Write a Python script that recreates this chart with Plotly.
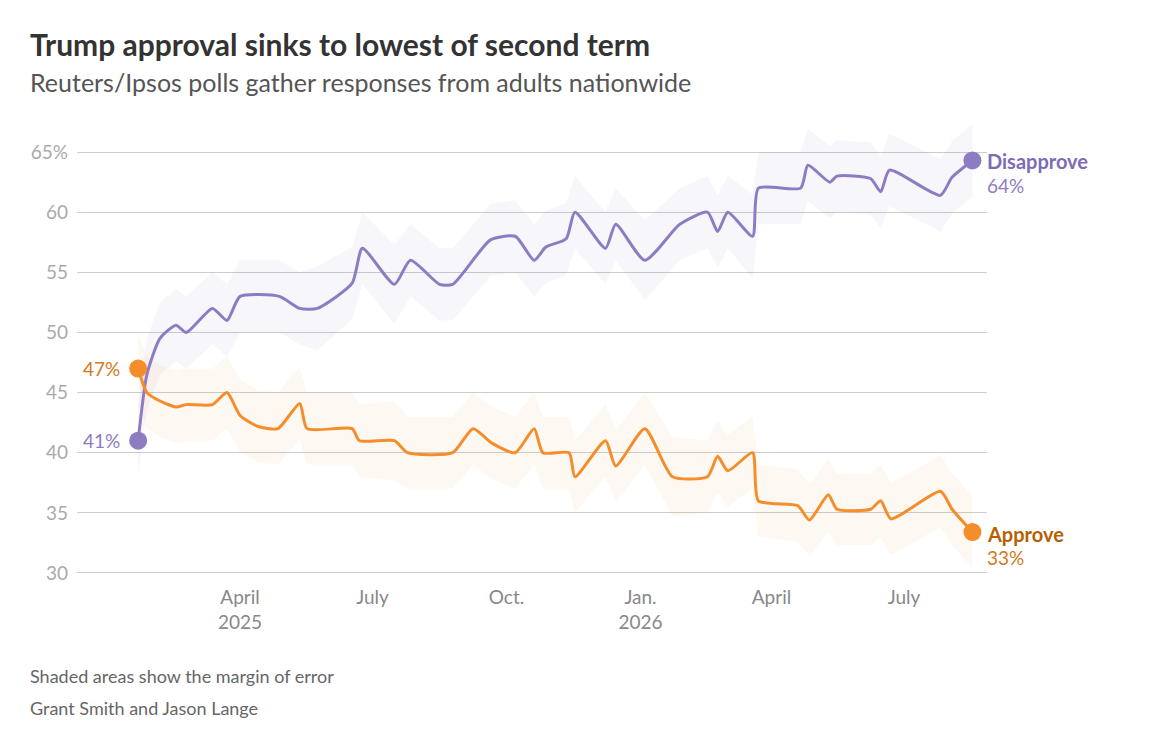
import plotly.graph_objects as go

# Reuters/Ipsos poll readings (percent)
disapprove_dates = [
    "2025-01-21", "2025-01-27", "2025-02-05", "2025-02-16", "2025-02-23",
    "2025-03-13", "2025-03-23", "2025-04-01", "2025-04-28", "2025-05-12",
    "2025-05-24", "2025-06-17", "2025-06-24", "2025-07-16", "2025-07-27",
    "2025-08-16", "2025-08-25", "2025-09-20", "2025-10-07", "2025-10-20",
    "2025-10-28", "2025-11-11", "2025-11-17", "2025-12-08", "2025-12-15",
    "2026-01-04", "2026-01-28", "2026-02-16", "2026-02-23", "2026-03-02",
    "2026-03-19", "2026-03-23", "2026-04-21", "2026-04-26", "2026-05-11",
    "2026-05-16", "2026-06-08", "2026-06-15", "2026-06-21", "2026-07-26",
    "2026-08-03", "2026-08-17",
]
disapprove = [
    41.0, 46.5, 49.5, 50.6, 50.0,
    52.0, 51.0, 53.0, 53.0, 52.0,
    52.0, 54.1, 57.0, 54.0, 56.0,
    54.0, 54.0, 57.7, 58.0, 56.0,
    57.1, 57.8, 60.0, 57.0, 59.0,
    56.0, 59.0, 60.0, 58.4, 60.0,
    58.0, 62.0, 62.0, 63.9, 62.5,
    63.0, 62.8, 61.7, 63.5, 61.4,
    62.9, 64.3,
]
disapprove_moe = [
    3.0, 3.0, 3.0, 3.0, 3.0,
    3.0, 3.0, 3.0, 3.0, 3.0,
    3.5, 3.0, 3.0, 3.3, 3.0,
    3.0, 3.0, 3.0, 3.0, 3.0,
    3.0, 3.0, 3.0, 3.0, 3.0,
    3.3, 3.0, 3.0, 3.0, 3.0,
    3.5, 3.0, 3.0, 3.0, 3.0,
    3.0, 3.0, 3.0, 3.0, 3.0,
    3.0, 3.0,
]

approve_dates = [
    "2025-01-21", "2025-01-27", "2025-02-05", "2025-02-16", "2025-02-23",
    "2025-03-13", "2025-03-23", "2025-04-01", "2025-04-13", "2025-04-27",
    "2025-05-12", "2025-05-17", "2025-06-17", "2025-06-22", "2025-07-16",
    "2025-07-25", "2025-08-25", "2025-09-08", "2025-09-21", "2025-10-07",
    "2025-10-20", "2025-10-26", "2025-11-13", "2025-11-17", "2025-12-08",
    "2025-12-15", "2026-01-04", "2026-01-23", "2026-02-16", "2026-02-23",
    "2026-03-02", "2026-03-19", "2026-03-23", "2026-04-19", "2026-04-27",
    "2026-05-10", "2026-05-16", "2026-06-08", "2026-06-15", "2026-06-22",
    "2026-07-26", "2026-08-03", "2026-08-17",
]
approve = [
    47.0, 45.0, 44.3, 43.8, 44.0,
    44.0, 45.0, 43.1, 42.2, 42.0,
    44.1, 42.0, 42.0, 41.0, 41.0,
    40.0, 40.0, 42.0, 40.8, 40.0,
    42.0, 40.0, 40.0, 38.0, 41.0,
    38.9, 42.0, 38.0, 38.0, 39.7,
    38.5, 40.0, 36.0, 35.6, 34.4,
    36.5, 35.3, 35.3, 36.0, 34.5,
    36.8, 35.3, 33.4,
]
approve_moe = [
    3.0, 3.0, 3.0, 3.0, 3.0,
    3.0, 3.0, 3.0, 3.0, 3.0,
    3.0, 3.0, 3.0, 3.0, 3.3,
    3.0, 3.0, 3.0, 3.0, 3.0,
    3.0, 3.0, 3.0, 3.0, 3.0,
    3.0, 3.0, 3.3, 3.0, 3.0,
    3.0, 3.0, 3.0, 3.0, 3.0,
    3.0, 3.0, 3.0, 3.0, 3.0,
    3.0, 3.0, 3.0,
]

tick_dates = ["2025-04-01", "2025-07-01", "2025-10-01", "2026-01-01", "2026-04-01", "2026-07-01"]
tick_labels = ["April<br>2025", "July", "Oct.", "Jan.<br>2026", "April", "July"]
y_ticks = [30, 35, 40, 45, 50, 55, 60, 65]
y_labels = ["30", "35", "40", "45", "50", "55", "60", "65%"]

PURPLE = "#8e7cc3"
ORANGE = "#f58d2a"
FONT = "Lato"

# plot area in page pixels (page has an 8px body margin)
PL, PR, PT, PB = 77, 987, 122, 579


def px(x, y):
    return (x - PL) / (PR - PL), (PB - y) / (PB - PT)


def band(dates, vals, moe, fill):
    upper = [v + m for v, m in zip(vals, moe)]
    lower = [v - m for v, m in zip(vals, moe)]
    return go.Scatter(
        x=dates + dates[::-1], y=upper + lower[::-1],
        fill="toself", fillcolor=fill, line=dict(width=0),
        mode="lines", hoverinfo="skip", showlegend=False,
    )


fig = go.Figure()
fig.add_trace(band(disapprove_dates, disapprove, disapprove_moe, "rgba(142,124,195,0.065)"))
fig.add_trace(band(approve_dates, approve, approve_moe, "rgba(245,141,42,0.06)"))

for d, v, c in [(disapprove_dates, disapprove, PURPLE), (approve_dates, approve, ORANGE)]:
    fig.add_trace(go.Scatter(
        x=d, y=v, mode="lines",
        line=dict(color=c, width=3, shape="spline", smoothing=0.6),
        showlegend=False,
    ))
    fig.add_trace(go.Scatter(
        x=[d[0], d[-1]], y=[v[0], v[-1]], mode="markers",
        marker=dict(color=c, size=18), showlegend=False,
    ))

# end labels
fig.add_annotation(x=disapprove_dates[-1], y=disapprove[-1], xanchor="left", yanchor="middle",
                   xshift=13, yshift=-1, showarrow=False, align="left",
                   text="<b>Disapprove</b>", font=dict(family=FONT, size=20, color="#7d6bb5"))
fig.add_annotation(x=disapprove_dates[-1], y=disapprove[-1], xanchor="left", yanchor="middle",
                   xshift=13, yshift=-25, showarrow=False, align="left",
                   text=f"{disapprove[-1]:.0f}%", font=dict(family=FONT, size=19, color="#8e7cc3"))
fig.add_annotation(x=approve_dates[-1], y=approve[-1], xanchor="left", yanchor="middle",
                   xshift=13, yshift=-2, showarrow=False, align="left",
                   text="<b>Approve</b>", font=dict(family=FONT, size=20, color="#b85f00"))
fig.add_annotation(x=approve_dates[-1], y=approve[-1], xanchor="left", yanchor="middle",
                   xshift=13, yshift=-25, showarrow=False, align="left",
                   text=f"{approve[-1]:.0f}%", font=dict(family=FONT, size=19, color="#d4791c"))
# start labels
fig.add_annotation(x=approve_dates[0], y=approve[0], xanchor="right", yanchor="middle",
                   xshift=-16, showarrow=False,
                   text=f"{approve[0]:.0f}%", font=dict(family=FONT, size=19, color="#d4791c"))
fig.add_annotation(x=disapprove_dates[0], y=disapprove[0], xanchor="right", yanchor="middle",
                   xshift=-16, showarrow=False,
                   text=f"{disapprove[0]:.0f}%", font=dict(family=FONT, size=19, color="#8e7cc3"))

# title, subtitle, notes
texts = [
    ("<b>Trump approval sinks to lowest of second term</b>", 44, 30, "#333"),
    ("Reuters/Ipsos polls gather responses from adults nationwide", 82, 25, "#555"),
    ("Shaded areas show the margin of error", 676, 18, "#666"),
    ("Grant Smith and Jason Lange", 708, 18, "#666"),
]
for t, ypix, size, col in texts:
    ax, ay = px(28, ypix)
    fig.add_annotation(x=ax, y=ay, xref="paper", yref="paper", xanchor="left", yanchor="middle",
                       showarrow=False, text=t, font=dict(family=FONT, size=size, color=col))

fig.update_layout(
    width=1140, height=716,
    margin=dict(l=PL - 8, r=1148 - PR, t=PT - 8, b=724 - PB),
    paper_bgcolor="white", plot_bgcolor="white",
    font=dict(family=FONT, color="#888"),
    xaxis=dict(
        range=["2024-12-10", "2026-08-27"], showgrid=False, zeroline=False, showline=False,
        tickvals=tick_dates, ticktext=tick_labels, ticks="", ticklabelstandoff=5,
        tickfont=dict(family=FONT, size=19, color="#888"),
    ),
    yaxis=dict(
        range=[29.5, 67.5], tickvals=y_ticks, ticktext=y_labels,
        showgrid=True, gridcolor="#cccccc", gridwidth=1, zeroline=False, showline=False,
        ticks="", ticklabelstandoff=8,
        tickfont=dict(family=FONT, size=19, color="#aaa"),
    ),
)

fig.write_html("out.html")
